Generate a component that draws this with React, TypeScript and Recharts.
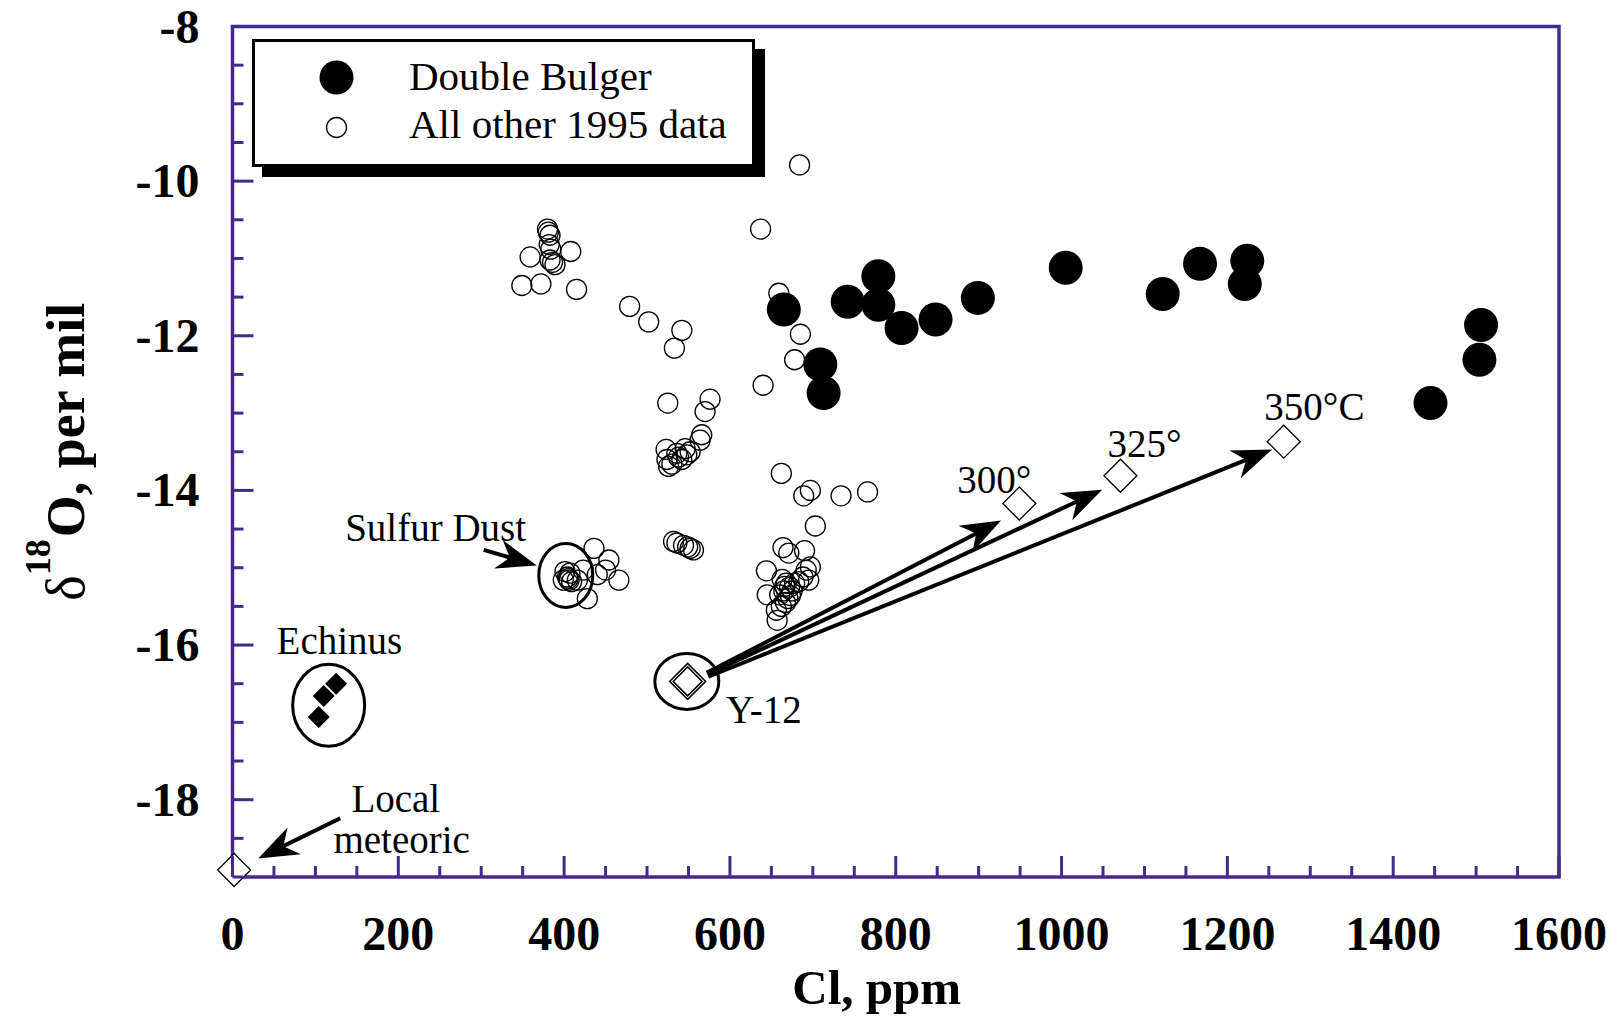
import React from 'react';
import { ScatterChart, Scatter, XAxis, YAxis, ReferenceLine, ReferenceDot, ReferenceArea } from 'recharts';

const AXIS = '#452a8b';
const SERIF = '"Liberation Serif", "Times New Roman", serif';

// Cl (ppm) vs delta-18O (per mil)
const doubleBulger = [
  { x: 665, y: -11.66 }, { x: 742, y: -11.56 }, { x: 779, y: -11.23 }, { x: 779, y: -11.6 },
  { x: 807, y: -11.9 }, { x: 848, y: -11.79 }, { x: 899, y: -11.51 }, { x: 709, y: -12.37 },
  { x: 713, y: -12.74 }, { x: 1005, y: -11.12 }, { x: 1122, y: -11.46 }, { x: 1167, y: -11.07 },
  { x: 1224, y: -11.03 }, { x: 1221, y: -11.33 }, { x: 1506, y: -11.86 }, { x: 1504, y: -12.31 },
  { x: 1445, y: -12.87 },
];

const otherData = [
  { x: 380, y: -10.62 }, { x: 381, y: -10.66 }, { x: 383, y: -10.7 }, { x: 382, y: -10.82 },
  { x: 384, y: -10.88 }, { x: 359, y: -10.98 }, { x: 408, y: -10.91 }, { x: 383, y: -11.02 },
  { x: 389, y: -11.08 }, { x: 386, y: -11.05 }, { x: 349, y: -11.35 }, { x: 372, y: -11.33 },
  { x: 415, y: -11.4 },
  { x: 479, y: -11.62 }, { x: 502, y: -11.82 }, { x: 542, y: -11.93 }, { x: 533, y: -12.16 },
  { x: 637, y: -10.62 }, { x: 684, y: -9.79 }, { x: 659, y: -11.45 }, { x: 685, y: -11.98 },
  { x: 678, y: -12.31 }, { x: 640, y: -12.64 },
  { x: 525, y: -12.87 }, { x: 576, y: -12.82 }, { x: 570, y: -12.98 }, { x: 566, y: -13.28 },
  { x: 564, y: -13.35 }, { x: 523, y: -13.47 }, { x: 546, y: -13.46 }, { x: 552, y: -13.5 },
  { x: 536, y: -13.52 }, { x: 548, y: -13.54 }, { x: 524, y: -13.6 }, { x: 530, y: -13.66 },
  { x: 526, y: -13.69 }, { x: 542, y: -13.6 }, { x: 538, y: -13.57 },
  { x: 662, y: -13.78 }, { x: 689, y: -14.07 }, { x: 697, y: -14.0 }, { x: 734, y: -14.07 },
  { x: 766, y: -14.02 }, { x: 703, y: -14.46 },
  { x: 532, y: -14.66 }, { x: 536, y: -14.68 }, { x: 544, y: -14.71 }, { x: 549, y: -14.73 },
  { x: 552, y: -14.75 }, { x: 556, y: -14.77 },
  { x: 664, y: -14.74 }, { x: 671, y: -14.81 }, { x: 690, y: -14.78 }, { x: 697, y: -14.99 },
  { x: 692, y: -15.03 }, { x: 644, y: -15.04 }, { x: 695, y: -15.16 }, { x: 688, y: -15.12 },
  { x: 663, y: -15.15 }, { x: 668, y: -15.2 }, { x: 672, y: -15.25 }, { x: 665, y: -15.3 },
  { x: 660, y: -15.35 }, { x: 670, y: -15.4 }, { x: 675, y: -15.3 }, { x: 667, y: -15.45 },
  { x: 662, y: -15.5 }, { x: 678, y: -15.2 }, { x: 683, y: -15.18 }, { x: 656, y: -15.55 },
  { x: 645, y: -15.35 }, { x: 657, y: -15.68 }, { x: 666, y: -15.24 }, { x: 673, y: -15.36 },
  { x: 436, y: -14.75 }, { x: 454, y: -14.9 }, { x: 450, y: -15.03 }, { x: 466, y: -15.16 },
  { x: 440, y: -15.09 }, { x: 428, y: -15.4 }, { x: 423, y: -15.03 }, { x: 407, y: -15.07 },
  { x: 405, y: -15.14 }, { x: 409, y: -15.18 }, { x: 401, y: -15.05 }, { x: 416, y: -15.16 },
  { x: 399, y: -15.16 }, { x: 404, y: -15.12 }, { x: 406, y: -15.16 },
];

const echinus = [{ x: 125, y: -16.5 }, { x: 110, y: -16.66 }, { x: 104, y: -16.93 }];
const y12 = [{ x: 549, y: -16.47 }];
const openDiamonds = [
  { x: 2, y: -18.91 },   // local meteoric
  { x: 949, y: -14.17 }, // 300°
  { x: 1071, y: -13.81 }, // 325°
  { x: 1268, y: -13.37 }, // 350°C
];

const arrows = [
  { id: 't300', x1: 572, y1: -16.36, x2: 927, y2: -14.39 },
  { id: 't325', x1: 573, y1: -16.38, x2: 1049, y2: -13.99 },
  { id: 't350', x1: 574, y1: -16.41, x2: 1254, y2: -13.47 },
  { id: 'sulfur', x1: 303, y1: -14.77, x2: 367, y2: -14.97 },
  { id: 'meteoric', x1: 130, y1: -18.24, x2: 31, y2: -18.76 },
];

const circledGroups = [
  { id: 'sulfur', x: 402, y: -15.1, rx: 27, ry: 32 },
  { id: 'echinus', x: 116, y: -16.78, rx: 36, ry: 41 },
  { id: 'y12', x: 548, y: -16.47, rx: 32, ry: 28 },
];

const notes = [
  { text: 'Sulfur Dust', x: 245, y: -14.65 },
  { text: 'Echinus', x: 129, y: -16.12 },
  { text: 'Local', x: 197, y: -18.155 },
  { text: 'meteoric', x: 204, y: -18.69 },
  { text: 'Y-12', x: 641, y: -17.01 },
  { text: '300°', x: 919, y: -14.03 },
  { text: '325°', x: 1100, y: -13.57 },
  { text: '350°C', x: 1305, y: -13.09 },
];

const xTicks = [0, 50, 100, 150, 200, 250, 300, 350, 400, 450, 500, 550, 600, 650, 700, 750, 800, 850,
  900, 950, 1000, 1050, 1100, 1150, 1200, 1250, 1300, 1350, 1400, 1450, 1500, 1550, 1600];
const yTicks = [-19, -18.5, -18, -17.5, -17, -16.5, -16, -15.5, -15, -14.5, -14, -13.5, -13, -12.5,
  -12, -11.5, -11, -10.5, -10, -9.5, -9, -8.5, -8];

const XTick = (props: any) => {
  const { x, y, payload } = props;
  const v = payload.value;
  const major = v % 200 === 0;
  return (
    <g>
      <line x1={x} y1={y} x2={x} y2={y - (major ? 21 : 11)} stroke={AXIS} strokeWidth={3} />
      {major && (
        <text x={x} y={y + 73} textAnchor="middle" fontFamily={SERIF} fontWeight="bold" fontSize={48} fill="#000">
          {v}
        </text>
      )}
    </g>
  );
};

const YTick = (props: any) => {
  const { x, y, payload } = props;
  const v = payload.value;
  const major = v % 2 === 0;
  return (
    <g>
      <line x1={x} y1={y} x2={x + (major ? 21 : 11)} y2={y} stroke={AXIS} strokeWidth={3} />
      {major && (
        <text x={x - 33} y={y + 16} textAnchor="end" fontFamily={SERIF} fontWeight="bold" fontSize={48} fill="#000">
          {v}
        </text>
      )}
    </g>
  );
};

const Arrow = (p: any) => {
  const { x1, y1, x2, y2 } = p;
  const dx = x2 - x1;
  const dy = y2 - y1;
  const len = Math.hypot(dx, dy) || 1;
  const ux = dx / len, uy = dy / len;
  const nx = -uy, ny = ux;
  const L = 40, W = 15, N = 12;
  const bx = x2 - ux * L, by = y2 - uy * L;
  const mx = x2 - ux * (L - N), my = y2 - uy * (L - N);
  const pts = [
    [x2, y2], [bx + nx * W, by + ny * W], [mx, my], [bx - nx * W, by - ny * W],
  ].map(q => q.join(',')).join(' ');
  return (
    <g>
      <line x1={x1} y1={y1} x2={mx} y2={my} stroke="#000" strokeWidth={4} />
      <polygon points={pts} fill="#000" />
    </g>
  );
};

const diamond = (cx: number, cy: number, h: number) =>
  `${cx},${cy - h} ${cx + h},${cy} ${cx},${cy + h} ${cx - h},${cy}`;

const OpenCircle = (p: any) => <circle cx={p.cx} cy={p.cy} r={10} fill="none" stroke="#000" strokeWidth={1.3} />;
const FilledCircle = (p: any) => <circle cx={p.cx} cy={p.cy} r={17} fill="#000" />;
const FilledDiamond = (p: any) => <polygon points={diamond(p.cx, p.cy, 11)} fill="#000" />;
const OpenDiamond = (p: any) => <polygon points={diamond(p.cx, p.cy, 16.5)} fill="#fff" stroke="#000" strokeWidth={1.3} />;
const DoubleDiamond = (p: any) => (
  <g>
    <polygon points={diamond(p.cx, p.cy, 18)} fill="#fff" stroke="#000" strokeWidth={1.5} />
    <polygon points={diamond(p.cx, p.cy, 14.5)} fill="none" stroke="#000" strokeWidth={1.5} />
  </g>
);

const ellipseShape = (rx: number, ry: number) => (p: any) => (
  <ellipse cx={p.cx} cy={p.cy} rx={rx} ry={ry} fill="none" stroke="#000" strokeWidth={3} />
);

const noteShape = (text: string) => (p: any) => (
  <text x={p.cx} y={p.cy} textAnchor="middle" fontFamily={SERIF} fontSize={39} fill="#000">{text}</text>
);

function LegendBox() {
  return (
    <div style={{
      position: 'absolute', left: 252, top: 39, width: 503, height: 128, boxSizing: 'border-box',
      border: '3.5px solid #000', boxShadow: '10px 10px 0 #000', background: '#fff',
    }}>
      <svg width={496} height={121} style={{ display: 'block' }}>
        <circle cx={81.5} cy={35.5} r={17} fill="#000" />
        <text x={154} y={47.5} fontFamily={SERIF} fontSize={41} fill="#000">Double Bulger</text>
        <circle cx={81.5} cy={85.5} r={10} fill="none" stroke="#000" strokeWidth={1.3} />
        <text x={154} y={95.5} fontFamily={SERIF} fontSize={41} fill="#000">All other 1995 data</text>
      </svg>
    </div>
  );
}

export default function App() {
  return (
    <div style={{ position: 'absolute', left: 0, top: 0, width: 1617, height: 1017, background: '#fff' }}>
      <ScatterChart width={1617} height={1017} margin={{ top: 26.5, right: 58, bottom: 80, left: 172.5 }}>
        <XAxis
          type="number" dataKey="x" domain={[0, 1600]} ticks={xTicks} interval={0} height={60}
          tickSize={0} tickMargin={0} tickLine={false} axisLine={false} tick={XTick}
          label={{
            content: (p: any) => (
              <text x={p.viewBox.x + p.viewBox.width / 2 - 19} y={p.viewBox.y + 127} textAnchor="middle"
                fontFamily={SERIF} fontWeight="bold" fontSize={49} fill="#000">Cl, ppm</text>
            ),
          }}
        />
        <YAxis
          type="number" dataKey="y" domain={[-19, -8]} ticks={yTicks} interval={0} width={60}
          tickSize={0} tickMargin={0} tickLine={false} axisLine={false} tick={YTick}
          label={{
            content: (p: any) => {
              const cx = p.viewBox.x + p.viewBox.width - 148.5;
              const cy = p.viewBox.y + p.viewBox.height / 2;
              return (
                <text x={cx} y={cy} transform={`rotate(-90 ${cx} ${cy})`} textAnchor="middle"
                  fontFamily={SERIF} fontWeight="bold" fontSize={54} fill="#000">
                  <tspan fontWeight="normal">δ</tspan>
                  <tspan fontSize={36} dy={-34}>18</tspan>
                  <tspan dy={34} dx={2}>O, per mil</tspan>
                </text>
              );
            },
          }}
        />
        <ReferenceArea x1={0} x2={1600} y1={-19} y2={-8} fill="none" fillOpacity={0} stroke={AXIS} strokeWidth={3.5} ifOverflow="visible" />
        {arrows.map(a => (
          <ReferenceLine key={a.id} segment={[{ x: a.x1, y: a.y1 }, { x: a.x2, y: a.y2 }]} shape={Arrow} ifOverflow="visible" />
        ))}
        {circledGroups.map(c => (
          <ReferenceDot key={c.id} x={c.x} y={c.y} r={0} shape={ellipseShape(c.rx, c.ry)} ifOverflow="visible" />
        ))}
        {notes.map(n => (
          <ReferenceDot key={n.text} x={n.x} y={n.y} r={0} shape={noteShape(n.text)} ifOverflow="visible" />
        ))}
        <Scatter name="All other 1995 data" data={otherData} shape={OpenCircle} isAnimationActive={false} />
        <Scatter name="Double Bulger" data={doubleBulger} shape={FilledCircle} isAnimationActive={false} />
        <Scatter name="Echinus" data={echinus} shape={FilledDiamond} isAnimationActive={false} />
        <Scatter name="Temperatures" data={openDiamonds} shape={OpenDiamond} isAnimationActive={false} />
        <Scatter name="Y-12" data={y12} shape={DoubleDiamond} isAnimationActive={false} />
      </ScatterChart>
      <LegendBox />
    </div>
  );
}
